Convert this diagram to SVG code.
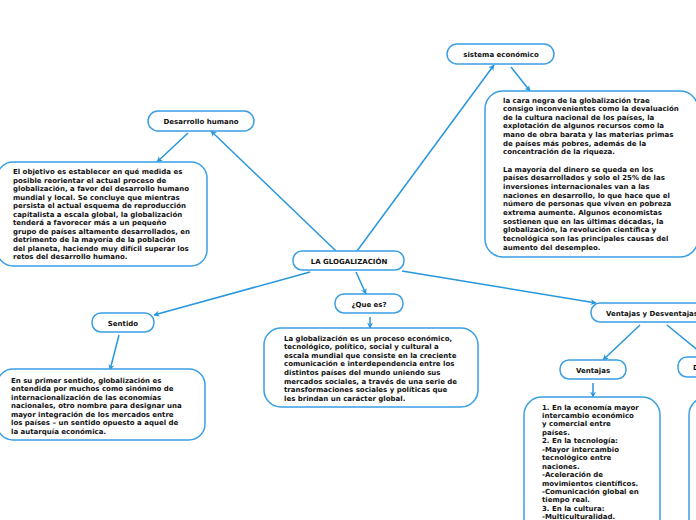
<svg xmlns="http://www.w3.org/2000/svg" width="696" height="520" viewBox="0 0 696 520">
<defs>
<marker id="arr" viewBox="0 0 10 10" refX="9" refY="5" markerWidth="6" markerHeight="6" orient="auto" markerUnits="userSpaceOnUse">
<path d="M0,0 L10,5 L0,10 L3,5 Z" fill="#2796dc"/>
</marker>
<style>
.box{fill:#fff;stroke:#3a9fe4;stroke-width:1.5}
.t{font-family:"DejaVu Sans",Verdana,sans-serif;font-weight:bold;font-size:7px;fill:#111}
.c{text-anchor:middle}
.ln{stroke:#2796dc;stroke-width:1.5;fill:none}
</style>
</defs>
<rect width="696" height="520" fill="#fff"/>
<g id="connectors">
<line class="ln" x1="336" y1="251" x2="211" y2="131" marker-end="url(#arr)"/>
<line class="ln" x1="357" y1="251" x2="494" y2="65" marker-end="url(#arr)"/>
<line class="ln" x1="188" y1="133" x2="157" y2="162" marker-end="url(#arr)"/>
<line class="ln" x1="511" y1="67" x2="530" y2="91" marker-end="url(#arr)"/>
<line class="ln" x1="356" y1="272" x2="366" y2="294" marker-end="url(#arr)"/>
<line class="ln" x1="370" y1="317" x2="370" y2="328" marker-end="url(#arr)"/>
<line class="ln" x1="310" y1="272" x2="154" y2="315" marker-end="url(#arr)"/>
<line class="ln" x1="119" y1="335" x2="110" y2="370" marker-end="url(#arr)"/>
<line class="ln" x1="402" y1="271" x2="596" y2="303" marker-end="url(#arr)"/>
<line class="ln" x1="640" y1="325" x2="603" y2="360" marker-end="url(#arr)"/>
<line class="ln" x1="667" y1="325" x2="700" y2="352"/>
<line class="ln" x1="593" y1="383" x2="593" y2="397" marker-end="url(#arr)"/>
</g>
<g id="n-center">
<rect class="box" x="293" y="251" width="111" height="19" rx="9"/>
<text class="t c" x="349" y="263.5">LA GLOGALIZACIÓN</text>
</g>
<g id="n-desarrollo">
<rect class="box" x="148" y="111" width="106" height="20" rx="10"/>
<text class="t c" x="201" y="124">Desarrollo humano</text>
</g>
<g id="n-desarrollo-text">
<rect class="box" x="-3" y="162" width="210" height="104" rx="16"/>
<text class="t" x="13" y="174">
<tspan x="13">El objetivo es establecer en qué medida es</tspan>
<tspan x="13" dy="8.5">posible reorientar el actual proceso de</tspan>
<tspan x="13" dy="8.5">globalización, a favor del desarrollo humano</tspan>
<tspan x="13" dy="8.5">mundial y local. Se concluye que mientras</tspan>
<tspan x="13" dy="8.5">persista el actual esquema de reproducción</tspan>
<tspan x="13" dy="8.5">capitalista a escala global, la globalización</tspan>
<tspan x="13" dy="8.5">tenderá a favorecer más a un pequeño</tspan>
<tspan x="13" dy="8.5">grupo de países altamente desarrollados, en</tspan>
<tspan x="13" dy="8.5">detrimento de la mayoría de la población</tspan>
<tspan x="13" dy="8.5">del planeta, haciendo muy difícil superar los</tspan>
<tspan x="13" dy="8.5">retos del desarrollo humano.</tspan>
</text>
</g>
<g id="n-sistema">
<rect class="box" x="447" y="44" width="107" height="20" rx="10"/>
<text class="t c" x="501" y="57">sistema económico</text>
</g>
<g id="n-sistema-text">
<rect class="box" x="485" y="91" width="213" height="166" rx="18"/>
<text class="t" x="503" y="102.5">
<tspan x="503">la cara negra de la globalización trae</tspan>
<tspan x="503" dy="8.66">consigo inconvenientes como la devaluación</tspan>
<tspan x="503" dy="8.66">de la cultura nacional de los países, la</tspan>
<tspan x="503" dy="8.66">explotación de algunos recursos como la</tspan>
<tspan x="503" dy="8.66">mano de obra barata y las materias primas</tspan>
<tspan x="503" dy="8.66">de países más pobres, además de la</tspan>
<tspan x="503" dy="8.66">concentración de la riqueza.</tspan>
<tspan x="503" dy="17.32">La mayoría del dinero se queda en los</tspan>
<tspan x="503" dy="8.66">países desarrollados y solo el 25% de las</tspan>
<tspan x="503" dy="8.66">inversiones internacionales van a las</tspan>
<tspan x="503" dy="8.66">naciones en desarrollo, lo que hace que el</tspan>
<tspan x="503" dy="8.66">número de personas que viven en pobreza</tspan>
<tspan x="503" dy="8.66">extrema aumente. Algunos economistas</tspan>
<tspan x="503" dy="8.66">sostienen que en las últimas décadas, la</tspan>
<tspan x="503" dy="8.66">globalización, la revolución científica y</tspan>
<tspan x="503" dy="8.66">tecnológica son las principales causas del</tspan>
<tspan x="503" dy="8.66">aumento del desempleo.</tspan>
</text>
</g>
<g id="n-quees">
<rect class="box" x="335" y="294" width="68" height="19" rx="9"/>
<text class="t c" x="369" y="306.5">¿Que es?</text>
</g>
<g id="n-quees-text">
<rect class="box" x="264" y="328" width="214" height="79" rx="17"/>
<text class="t" x="284" y="340.5">
<tspan x="284">La globalización es un proceso económico,</tspan>
<tspan x="284" dy="8.6">tecnológico, político, social y cultural a</tspan>
<tspan x="284" dy="8.6">escala mundial que consiste en la creciente</tspan>
<tspan x="284" dy="8.6">comunicación e interdependencia entre los</tspan>
<tspan x="284" dy="8.6">distintos países del mundo uniendo sus</tspan>
<tspan x="284" dy="8.6">mercados sociales, a través de una serie de</tspan>
<tspan x="284" dy="8.6">transformaciones sociales y políticas que</tspan>
<tspan x="284" dy="8.6">les brindan un carácter global.</tspan>
</text>
</g>
<g id="n-sentido">
<rect class="box" x="92" y="313" width="62" height="19" rx="9"/>
<text class="t c" x="123" y="325.5">Sentido</text>
</g>
<g id="n-sentido-text">
<rect class="box" x="-3" y="369" width="208" height="71" rx="16"/>
<text class="t" x="11" y="382.5">
<tspan x="11">En su primer sentido, globalización es</tspan>
<tspan x="11" dy="8.5">entendida por muchos como sinónimo de</tspan>
<tspan x="11" dy="8.5">internacionalización de las economías</tspan>
<tspan x="11" dy="8.5">nacionales, otro nombre para designar una</tspan>
<tspan x="11" dy="8.5">mayor integración de los mercados entre</tspan>
<tspan x="11" dy="8.5">los países – un sentido opuesto a aquel de</tspan>
<tspan x="11" dy="8.5">la autarquía económica.</tspan>
</text>
</g>
<g id="n-vyd">
<rect class="box" x="591" y="303" width="120" height="19" rx="9"/>
<text class="t" x="606" y="315.5">Ventajas y Desventajas</text>
</g>
<g id="n-ventajas">
<rect class="box" x="560" y="360" width="66" height="19" rx="9"/>
<text class="t c" x="593" y="372.5">Ventajas</text>
</g>
<g id="n-desventajas">
<rect class="box" x="678" y="357" width="70" height="20" rx="9"/>
<text class="t" x="693" y="370">Desventajas</text>
</g>
<g id="n-ventajas-text">
<rect class="box" x="524" y="397" width="136" height="140" rx="18"/>
<text class="t" x="542" y="409.5">
<tspan x="542">1. En la economía mayor</tspan>
<tspan x="542" dy="8.45">intercambio económico</tspan>
<tspan x="542" dy="8.45">y comercial entre</tspan>
<tspan x="542" dy="8.45">países.</tspan>
<tspan x="542" dy="8.45">2. En la tecnología:</tspan>
<tspan x="542" dy="8.45">-Mayor intercambio</tspan>
<tspan x="542" dy="8.45">tecnológico entre</tspan>
<tspan x="542" dy="8.45">naciones.</tspan>
<tspan x="542" dy="8.45">-Aceleración de</tspan>
<tspan x="542" dy="8.45">movimientos científicos.</tspan>
<tspan x="542" dy="8.45">-Comunicación global en</tspan>
<tspan x="542" dy="8.45">tiempo real.</tspan>
<tspan x="542" dy="8.45">3. En la cultura:</tspan>
<tspan x="542" dy="8.45">-Multiculturalidad.</tspan>
</text>
</g>
<g id="n-desventajas-text">
<rect class="box" x="689" y="397" width="136" height="140" rx="18"/>
</g>
</svg>
